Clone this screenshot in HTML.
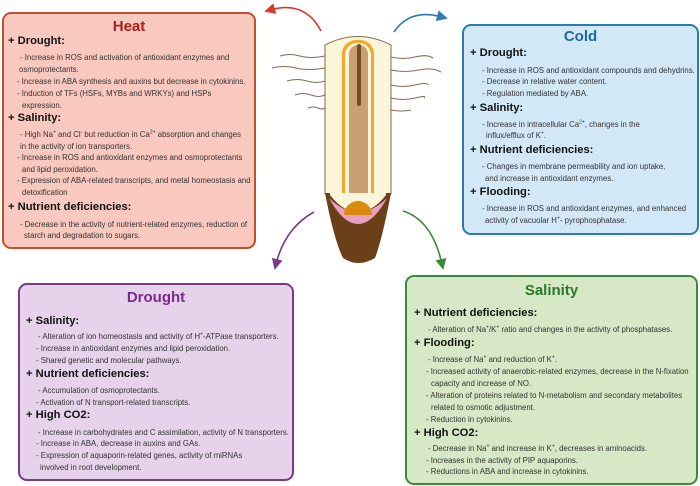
<!DOCTYPE html>
<html><head><meta charset="utf-8"><style>
body{margin:0;width:700px;height:486px;position:relative;background:#fff;font-family:"Liberation Sans",Arial,sans-serif;overflow:hidden}
.box{position:absolute;border-radius:9px;border:2px solid}
.t{position:absolute;white-space:nowrap;font-size:7.8px;color:#333;line-height:1}
.t sup{font-size:5px;line-height:0}
.h{position:absolute;white-space:nowrap;font-size:11.2px;font-weight:bold;color:#111;line-height:1}
.ti{position:absolute;font-size:15px;font-weight:bold;line-height:1;text-align:center}
</style></head><body>
<div class="box" style="left:2px;top:12px;width:250px;height:233px;background:#f9c8bf;border-color:#c0502a"></div>
<div class="box" style="left:462px;top:24px;width:233px;height:207px;background:#d2e8f6;border-color:#2a7ab5"></div>
<div class="box" style="left:18px;top:283px;width:272px;height:194px;background:#e6d2ea;border-color:#7a3a8a"></div>
<div class="box" style="left:405px;top:275px;width:289px;height:206px;background:#d6e8c6;border-color:#3a8a3a"></div>

<svg width="700" height="486" style="position:absolute;left:0;top:0">
<defs>
<marker id="mr" markerWidth="11" markerHeight="11" refX="5" refY="5.5" orient="auto" markerUnits="userSpaceOnUse"><path d="M0,0 L11,5.5 L0,11 Z" fill="#d83a2a"/></marker>
<marker id="mb" markerWidth="11" markerHeight="11" refX="5" refY="5.5" orient="auto" markerUnits="userSpaceOnUse"><path d="M0,0 L11,5.5 L0,11 Z" fill="#2a7ab5"/></marker>
<marker id="mp" markerWidth="11" markerHeight="11" refX="5" refY="5.5" orient="auto" markerUnits="userSpaceOnUse"><path d="M0,0 L11,5.5 L0,11 Z" fill="#7a3a8a"/></marker>
<marker id="mg" markerWidth="11" markerHeight="11" refX="5" refY="5.5" orient="auto" markerUnits="userSpaceOnUse"><path d="M0,0 L11,5.5 L0,11 Z" fill="#3a8a3a"/></marker>
</defs>
<path d="M321,31 Q305,0 270,10" stroke="#d83a2a" stroke-width="1.6" fill="none" marker-end="url(#mr)"/>
<path d="M394,32 Q410,8 442,17" stroke="#2a7ab5" stroke-width="1.6" fill="none" marker-end="url(#mb)"/>
<path d="M314,212 Q285,228 276,264" stroke="#7a3a8a" stroke-width="1.6" fill="none" marker-end="url(#mp)"/>
<path d="M403,211 Q432,220 442,264" stroke="#3a8a3a" stroke-width="1.6" fill="none" marker-end="url(#mg)"/>
<g stroke="#8a6a50" stroke-width="1.1" fill="none">
<path d="M280,56 q10,-3 20,0 t25,0"/><path d="M272,68 q12,-3 24,0 t29,0"/><path d="M287,81 q10,-3 20,0 t18,0"/><path d="M295,95 q8,-3 16,0 t14,0"/><path d="M308,108 q6,-2 10,0 t7,0"/>
<path d="M391,57 q12,3 24,0 t18,1"/><path d="M391,70 q14,3 28,0 t22,2"/><path d="M391,85 q12,3 24,0 t13,0"/><path d="M391,98 q12,3 24,0 t9,0"/><path d="M391,110 q10,2 20,0"/>
</g>
<path d="M325,45 Q358,28 391,45 L391,194 L325,194 Z" fill="#fbf6da" stroke="#8a6a50" stroke-width="1"/>
<rect x="342" y="40" width="32" height="168" rx="14" fill="#f0a830"/>
<rect x="345" y="43" width="26" height="165" rx="12" fill="#fbf6da"/>
<rect x="349" y="45" width="19" height="165" rx="9" fill="#c9a074"/>
<rect x="357" y="44" width="4" height="62" rx="2" fill="#7a4a25"/>
<path d="M325,193 L391,193 Q382,240 375,258 Q358,268 343,258 Q334,240 325,193 Z" fill="#6b3f18"/>
<path d="M329,198 Q343,224 358,224 Q373,224 387,198 Q373,212 358,212 Q343,212 329,198 Z" fill="#eca0c0"/>
<path d="M330,195 Q343,212 358,212 Q373,212 386,195 L386,193 L330,193 Z" fill="#fbf6da"/>
<path d="M344,215 A14,14 0 0 1 372,215 Z" fill="#d98a10"/>
</svg>

<div class="ti" style="left:2px;width:254px;top:19px;color:#a8201a">Heat</div>
<div class="h" style="left:8px;top:36px">+ Drought:</div>
<div class="t" style="left:20px;top:54px">- Increase in ROS and activation of antioxidant enzymes and</div>
<div class="t" style="left:19px;top:66px">osmoprotectants.</div>
<div class="t" style="left:17px;top:78px">- Increase in ABA synthesis and auxins but decrease in cytokinins.</div>
<div class="t" style="left:17px;top:90px">- Induction of TFs (HSFs, MYBs and WRKYs) and HSPs</div>
<div class="t" style="left:22px;top:102px">expression.</div>
<div class="h" style="left:8px;top:113px">+ Salinity:</div>
<div class="t" style="left:20px;top:131px">- High Na<sup>+</sup> and Cl<sup>-</sup> but reduction in Ca<sup>2+</sup> absorption and  changes</div>
<div class="t" style="left:20px;top:143px">in the activity of ion transporters.</div>
<div class="t" style="left:17px;top:154px">- Increase in ROS and antioxidant enzymes and osmoprotectants</div>
<div class="t" style="left:22px;top:166px">and lipid peroxidation.</div>
<div class="t" style="left:17px;top:177px">- Expression of ABA-related transcripts, and metal homeostasis and</div>
<div class="t" style="left:22px;top:189px">detoxification</div>
<div class="h" style="left:8px;top:202px">+ Nutrient deficiencies:</div>
<div class="t" style="left:20px;top:221px">- Decrease in the activity of nutrient-related enzymes, reduction of</div>
<div class="t" style="left:24px;top:232px">starch and degradation to sugars.</div>

<div class="ti" style="left:462px;width:237px;top:29px;color:#1a6aa5">Cold</div>
<div class="h" style="left:470px;top:48px">+ Drought:</div>
<div class="t" style="left:482px;top:67px">- Increase in ROS and antioxidant compounds and dehydrins.</div>
<div class="t" style="left:482px;top:78px">- Decrease in relative water content.</div>
<div class="t" style="left:482px;top:90px">- Regulation mediated by ABA.</div>
<div class="h" style="left:470px;top:103px">+ Salinity:</div>
<div class="t" style="left:482px;top:121px">- Increase in intracellular Ca<sup>2+</sup>, changes in the</div>
<div class="t" style="left:486px;top:132px">influx/efflux of K<sup>+</sup>.</div>
<div class="h" style="left:470px;top:145px">+ Nutrient deficiencies:</div>
<div class="t" style="left:482px;top:163px">- Changes in membrane permeability and  ion uptake,</div>
<div class="t" style="left:485px;top:175px">and increase in antioxidant enzymes.</div>
<div class="h" style="left:470px;top:187px">+ Flooding:</div>
<div class="t" style="left:482px;top:205px">- Increase in ROS and antioxidant enzymes, and enhanced</div>
<div class="t" style="left:485px;top:217px">activity of vacuolar H<sup>+</sup>- pyrophosphatase.</div>

<div class="ti" style="left:18px;width:276px;top:290px;color:#7a2a8a">Drought</div>
<div class="h" style="left:26px;top:316px">+ Salinity:</div>
<div class="t" style="left:38px;top:333px">- Alteration of ion homeostasis and activity of H<sup>+</sup>-ATPase transporters.</div>
<div class="t" style="left:36px;top:345px">- Increase in antioxidant enzymes and lipid peroxidation.</div>
<div class="t" style="left:36px;top:357px">- Shared genetic and molecular pathways.</div>
<div class="h" style="left:26px;top:369px">+ Nutrient deficiencies:</div>
<div class="t" style="left:38px;top:387px">- Accumulation of osmoprotectants.</div>
<div class="t" style="left:36px;top:399px">- Activation of N transport-related  transcripts.</div>
<div class="h" style="left:26px;top:410px">+ High CO2:</div>
<div class="t" style="left:38px;top:429px">- Increase in carbohydrates and C assimilation, activity of N transporters.</div>
<div class="t" style="left:36px;top:440px">- Increase in ABA, decrease in auxins and GAs.</div>
<div class="t" style="left:36px;top:452px">- Expression of aquaporin-related genes, activity of miRNAs</div>
<div class="t" style="left:40px;top:464px">involved in root development.</div>

<div class="ti" style="left:405px;width:293px;top:283px;color:#2a7a2a">Salinity</div>
<div class="h" style="left:414px;top:308px">+ Nutrient deficiencies:</div>
<div class="t" style="left:428px;top:326px">- Alteration of Na<sup>+</sup>/K<sup>+</sup> ratio and changes in the activity of phosphatases.</div>
<div class="h" style="left:414px;top:338px">+ Flooding:</div>
<div class="t" style="left:428px;top:356px">- Increase of Na<sup>+</sup> and reduction of K<sup>+</sup>.</div>
<div class="t" style="left:426px;top:368px">- Increased activity of anaerobic-related enzymes, decrease in the N-fixation</div>
<div class="t" style="left:431px;top:380px">capacity and increase of NO.</div>
<div class="t" style="left:426px;top:392px">- Alteration of proteins related to N-metabolism and secondary metabolites</div>
<div class="t" style="left:431px;top:404px">related to osmotic adjustment.</div>
<div class="t" style="left:426px;top:416px">- Reduction in cytokinins.</div>
<div class="h" style="left:414px;top:428px">+ High CO2:</div>
<div class="t" style="left:428px;top:445px">- Decrease in Na<sup>+</sup> and increase in K<sup>+</sup>, decreases in aminoacids.</div>
<div class="t" style="left:426px;top:457px">- Increases in the activity of PIP aquaporins.</div>
<div class="t" style="left:426px;top:468px">- Reductions in ABA and increase in cytokinins.</div>
</body></html>
